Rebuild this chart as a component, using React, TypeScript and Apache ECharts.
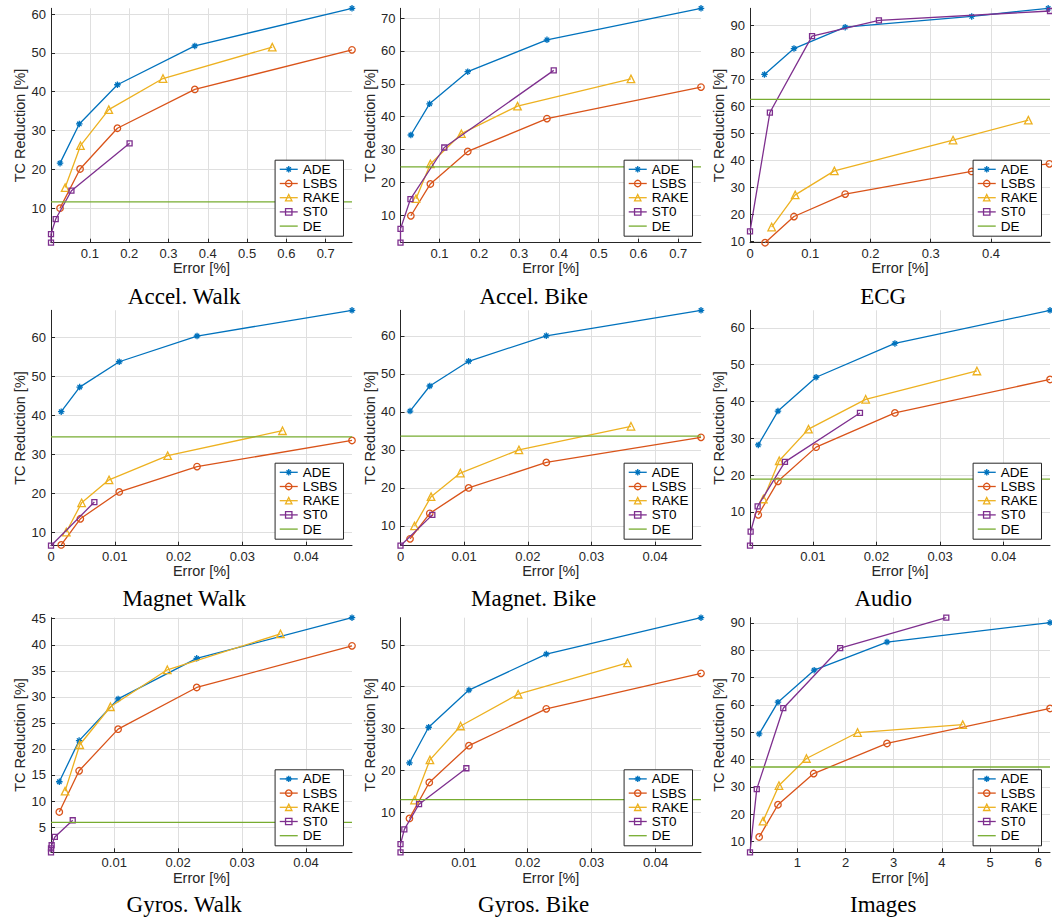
import React, { useEffect, useRef } from 'react';
import * as echarts from 'echarts';

type Pt = [number, number];

// ---------- titles & legend names ----------
const panelTitles = ['Accel. Walk', 'Accel. Bike', 'ECG', 'Magnet Walk', 'Magnet. Bike', 'Audio', 'Gyros. Walk', 'Gyros. Bike', 'Images'];
const methodNames = ['ADE', 'LSBS', 'RAKE', 'ST0', 'DE'];

// ---------- data (Error [%], TC Reduction [%]) ----------
const accelWalkADE: Pt[] = [[0.024, 21.6], [0.073, 31.7], [0.17, 41.8], [0.367, 51.8], [0.767, 61.5]];
const accelWalkLSBS: Pt[] = [[0.024, 10.0], [0.075, 20.1], [0.17, 30.6], [0.367, 40.6], [0.767, 50.8]];
const accelWalkRAKE: Pt[] = [[0.037, 15.3], [0.076, 26.1], [0.148, 35.4], [0.286, 43.4], [0.564, 51.5]];
const accelWalkST0: Pt[] = [[0.001, 1.1], [0.001, 3.3], [0.013, 7.2], [0.053, 14.5], [0.201, 26.7]];

const accelBikeADE: Pt[] = [[0.028, 34.4], [0.075, 43.9], [0.171, 53.7], [0.37, 63.4], [0.757, 73.0]];
const accelBikeLSBS: Pt[] = [[0.028, 9.8], [0.077, 19.5], [0.171, 29.4], [0.37, 39.4], [0.757, 49.0]];
const accelBikeRAKE: Pt[] = [[0.041, 15.0], [0.077, 25.6], [0.155, 34.8], [0.296, 43.2], [0.581, 51.5]];
const accelBikeST0: Pt[] = [[0.002, 1.6], [0.002, 5.8], [0.027, 14.9], [0.112, 30.6], [0.387, 54.1]];

const ecgADE: Pt[] = [[0.024, 71.8], [0.073, 81.4], [0.158, 89.3], [0.368, 93.3], [0.495, 96.3]];
const ecgLSBS: Pt[] = [[0.025, 9.5], [0.073, 19.2], [0.158, 27.5], [0.368, 35.9], [0.497, 38.7]];
const ecgRAKE: Pt[] = [[0.036, 15.3], [0.075, 27.2], [0.14, 36.1], [0.337, 47.5], [0.462, 54.9]];
const ecgST0: Pt[] = [[0, 13.7], [0.033, 57.7], [0.103, 86.0], [0.214, 91.8], [0.498, 95.3]];

const magWalkADE: Pt[] = [[0.0016, 40.9], [0.0045, 47.2], [0.0107, 53.7], [0.0229, 60.3], [0.0472, 66.9]];
const magWalkLSBS: Pt[] = [[0.0016, 6.7], [0.0046, 13.4], [0.0107, 20.3], [0.0229, 26.8], [0.0472, 33.5]];
const magWalkRAKE: Pt[] = [[0.0024, 10.0], [0.0048, 17.5], [0.0091, 23.4], [0.0183, 29.6], [0.0363, 36.0]];
const magWalkST0: Pt[] = [[0, 6.5], [0.0068, 17.7]];

const magBikeADE: Pt[] = [[0.0015, 40.2], [0.0046, 46.8], [0.0107, 53.3], [0.0229, 60.0], [0.0472, 66.7]];
const magBikeLSBS: Pt[] = [[0.0015, 6.6], [0.0046, 13.3], [0.0107, 20.0], [0.0229, 26.7], [0.0472, 33.3]];
const magBikeRAKE: Pt[] = [[0.0022, 10.0], [0.0048, 17.7], [0.0094, 23.9], [0.0186, 30.0], [0.0362, 36.2]];
const magBikeST0: Pt[] = [[0, 4.8], [0.005, 12.9]];

const audioADE: Pt[] = [[0.0014, 28.2], [0.0045, 37.4], [0.0105, 46.6], [0.0229, 55.8], [0.0473, 64.8]];
const audioLSBS: Pt[] = [[0.0014, 9.2], [0.0045, 18.3], [0.0105, 27.6], [0.0229, 36.9], [0.0473, 46.0]];
const audioRAKE: Pt[] = [[0.0022, 13.5], [0.0047, 23.9], [0.0093, 32.5], [0.0183, 40.6], [0.0358, 48.3]];
const audioST0: Pt[] = [[0.0001, 0.8], [0.0002, 4.6], [0.0013, 11.5], [0.0056, 23.6], [0.0174, 36.9]];

const gyroWalkADE: Pt[] = [[0.0014, 13.7], [0.0045, 21.6], [0.0106, 29.6], [0.0229, 37.4], [0.0472, 45.2]];
const gyroWalkLSBS: Pt[] = [[0.0014, 7.9], [0.0045, 15.8], [0.0106, 23.8], [0.0229, 31.8], [0.0472, 39.8]];
const gyroWalkRAKE: Pt[] = [[0.0023, 11.9], [0.0046, 20.8], [0.0094, 28.1], [0.0183, 35.2], [0.036, 42.1]];
const gyroWalkST0: Pt[] = [[0.0001, 0.15], [0.0001, 0.9], [0.0002, 1.5], [0.0007, 3.1], [0.0035, 6.3]];

const gyroBikeADE: Pt[] = [[0.0015, 21.8], [0.0045, 30.3], [0.0108, 39.2], [0.0229, 47.8], [0.0471, 56.5]];
const gyroBikeLSBS: Pt[] = [[0.0015, 8.5], [0.0046, 17.1], [0.0108, 25.9], [0.0229, 34.7], [0.0471, 43.2]];
const gyroBikeRAKE: Pt[] = [[0.0023, 12.9], [0.0047, 22.5], [0.0095, 30.6], [0.0185, 38.2], [0.0356, 45.7]];
const gyroBikeST0: Pt[] = [[0.0001, 0.4], [0.0001, 2.35], [0.0007, 5.9], [0.003, 11.9], [0.0104, 20.5]];

const imagesADE: Pt[] = [[0.21, 49.4], [0.6, 61.0], [1.35, 72.7], [2.86, 83.0], [6.24, 90.1]];
const imagesLSBS: Pt[] = [[0.21, 11.7], [0.6, 23.5], [1.34, 34.9], [2.86, 45.9], [6.24, 58.7]];
const imagesRAKE: Pt[] = [[0.29, 17.5], [0.62, 30.5], [1.19, 40.4], [2.25, 49.9], [4.43, 52.8]];
const imagesST0: Pt[] = [[0.02, 6.1], [0.16, 29.2], [0.71, 58.8], [1.89, 80.8], [4.09, 91.9]];

// DE baseline level per panel
const deLevels = [11.6, 24.7, 62.6, 34.4, 33.6, 18.9, 5.9, 13.0, 37.3];

// ---------- tick labels ----------
const accelXTicks = [0.1, 0.2, 0.3, 0.4, 0.5, 0.6, 0.7];
const ecgXTicks = [0, 0.1, 0.2, 0.3, 0.4];
const magXTicks = [0, 0.01, 0.02, 0.03, 0.04];
const smallXTicks = [0.01, 0.02, 0.03, 0.04];
const imagesXTicks = [1, 2, 3, 4, 5, 6];
const yTicks60 = [10, 20, 30, 40, 50, 60];
const yTicks70 = [10, 20, 30, 40, 50, 60, 70];
const yTicks90 = [10, 20, 30, 40, 50, 60, 70, 80, 90];
const yTicks45 = [5, 10, 15, 20, 25, 30, 35, 40, 45];
const yTicks50 = [10, 20, 30, 40, 50];

const panelSeries: Pt[][][] = [
  [accelWalkADE, accelWalkLSBS, accelWalkRAKE, accelWalkST0],
  [accelBikeADE, accelBikeLSBS, accelBikeRAKE, accelBikeST0],
  [ecgADE, ecgLSBS, ecgRAKE, ecgST0],
  [magWalkADE, magWalkLSBS, magWalkRAKE, magWalkST0],
  [magBikeADE, magBikeLSBS, magBikeRAKE, magBikeST0],
  [audioADE, audioLSBS, audioRAKE, audioST0],
  [gyroWalkADE, gyroWalkLSBS, gyroWalkRAKE, gyroWalkST0],
  [gyroBikeADE, gyroBikeLSBS, gyroBikeRAKE, gyroBikeST0],
  [imagesADE, imagesLSBS, imagesRAKE, imagesST0],
];
const panelXTicks = [accelXTicks, accelXTicks, ecgXTicks, magXTicks, magXTicks, smallXTicks, smallXTicks, smallXTicks, imagesXTicks];
const panelYTicks = [yTicks60, yTicks70, yTicks90, yTicks60, yTicks60, yTicks60, yTicks45, yTicks50, yTicks90];

// ---------- styles / layout ----------
const W = 1052;
const H = 922;
const FONT = '"Liberation Sans", Arial, Helvetica, sans-serif';
const AX = '#262626';
const GRIDC = '#dfdfdf';
const colors = ['#0072BD', '#D95319', '#EDB120', '#7E2F8E', '#77AC30'];
const ASTERISK = 'path://M5 0L5 10M0 5L10 5M1.6 1.6L8.4 8.4M1.6 8.4L8.4 1.6';
const symbols = [ASTERISK, 'circle', 'triangle', 'rect', 'none'];
const symbolSizes = [6.5, 6.5, 7.5, 5, 0];
const LW = 1.3;

const colLeft = [51, 400.5, 750];
const colRight = [352, 701, 1050];
const rowTop = [8.3, 310.3, 617.7];
const rowBottom = [242.7, 545.7, 852.3];
const colCenter = [184.2, 533.7, 883.2];
const titleBaseline = [304, 606.7, 912.7];

function buildOption() {
  const grid: any[] = [];
  const xAxis: any[] = [];
  const yAxis: any[] = [];
  const series: any[] = [];
  const legend: any[] = [];
  const graphic: any[] = [];

  panelSeries.forEach((lines, p) => {
    const c = p % 3;
    const r = Math.floor(p / 3);
    const xs = lines.flat().map((d) => d[0]);
    const ys = lines.flat().map((d) => d[1]).concat([deLevels[p]]);
    const xMin = Math.min(...xs);
    const xMax = Math.max(...xs);
    const yMin = Math.min(...ys);
    const yMax = Math.max(...ys);

    grid.push({
      left: colLeft[c],
      top: rowTop[r],
      width: colRight[c] - colLeft[c],
      height: rowBottom[r] - rowTop[r],
      containLabel: false,
      outerBoundsMode: 'none',
    });

    xAxis.push({
      type: 'value',
      gridIndex: p,
      min: xMin,
      max: xMax,
      name: 'Error [%]',
      nameLocation: 'middle',
      nameGap: 17,
      nameTextStyle: { fontSize: 14.5, color: AX, fontFamily: FONT },
      axisLine: { show: true, onZero: false, lineStyle: { color: AX, width: 1 } },
      axisTick: { show: true, inside: true, length: 4, customValues: panelXTicks[p], lineStyle: { color: AX, width: 1 } },
      axisLabel: { show: true, customValues: panelXTicks[p], fontSize: 13, color: AX, margin: 4, fontFamily: FONT },
      splitLine: { show: true, lineStyle: { color: GRIDC, width: 1 } },
    });

    yAxis.push({
      type: 'value',
      gridIndex: p,
      min: yMin,
      max: yMax,
      name: 'TC Reduction [%]',
      nameLocation: 'middle',
      nameGap: 22,
      nameRotate: 90,
      nameTextStyle: { fontSize: 14.5, color: AX, fontFamily: FONT },
      axisLine: { show: true, onZero: false, lineStyle: { color: AX, width: 1 } },
      axisTick: { show: true, inside: true, length: 4, customValues: panelYTicks[p], lineStyle: { color: AX, width: 1 } },
      axisLabel: { show: true, customValues: panelYTicks[p], fontSize: 13, color: AX, margin: 5, fontFamily: FONT },
      splitLine: { show: true, lineStyle: { color: GRIDC, width: 1 } },
    });

    const allLines: Pt[][] = [...lines, [[xMin, deLevels[p]], [xMax, deLevels[p]]]];
    allLines.forEach((data, k) => {
      const col = colors[k];
      series.push({
        type: 'line',
        name: methodNames[k],
        xAxisIndex: p,
        yAxisIndex: p,
        data,
        symbol: symbols[k],
        symbolSize: symbolSizes[k],
        showSymbol: k !== 4,
        clip: false,
        silent: true,
        legendHoverLink: false,
        lineStyle: { color: col, width: LW },
        itemStyle: { color: k === 0 ? col : 'none', borderColor: col, borderWidth: LW },
        emphasis: { disabled: true },
        z: 2 + k,
      });
    });

    legend.push({
      orient: 'vertical',
      right: W - (colRight[c] - 8.5),
      top: rowBottom[r] - 82.5,
      selectedMode: false,
      backgroundColor: '#fff',
      borderColor: AX,
      borderWidth: 1,
      borderRadius: 0,
      padding: [2, 4, 3, 4],
      itemWidth: 18,
      itemHeight: 8,
      itemGap: 0,
      textStyle: { fontSize: 13.5, lineHeight: 14.2, color: '#000', fontFamily: FONT },
      data: methodNames.map((n, k) => ({
        name: n,
        itemStyle: k === 4
          ? { opacity: 0 }
          : { color: k === 0 ? colors[k] : 'none', borderColor: colors[k], borderWidth: LW, opacity: 1 },
        lineStyle: { color: colors[k], width: LW, opacity: 1 },
      })),
      z: 20,
    });

    graphic.push({
      type: 'text',
      x: colCenter[c],
      y: titleBaseline[r] - 7.8,
      style: {
        text: panelTitles[p],
        font: '23px "Liberation Serif", "Times New Roman", serif',
        fill: '#000',
        textAlign: 'center',
        textVerticalAlign: 'middle',
        align: 'center',
        verticalAlign: 'middle',
      },
    });
  });

  return {
    animation: false,
    backgroundColor: '#fff',
    textStyle: { fontFamily: FONT },
    grid,
    xAxis,
    yAxis,
    series,
    legend,
    graphic,
  };
}

export default function App() {
  const ref = useRef<HTMLDivElement>(null);
  useEffect(() => {
    if (!ref.current) return;
    const chart = echarts.init(ref.current, undefined, { renderer: 'svg', width: W, height: H });
    chart.setOption(buildOption() as any);
    return () => chart.dispose();
  }, []);
  return <div ref={ref} style={{ position: 'absolute', left: 0, top: 0, width: W, height: H }} />;
}
